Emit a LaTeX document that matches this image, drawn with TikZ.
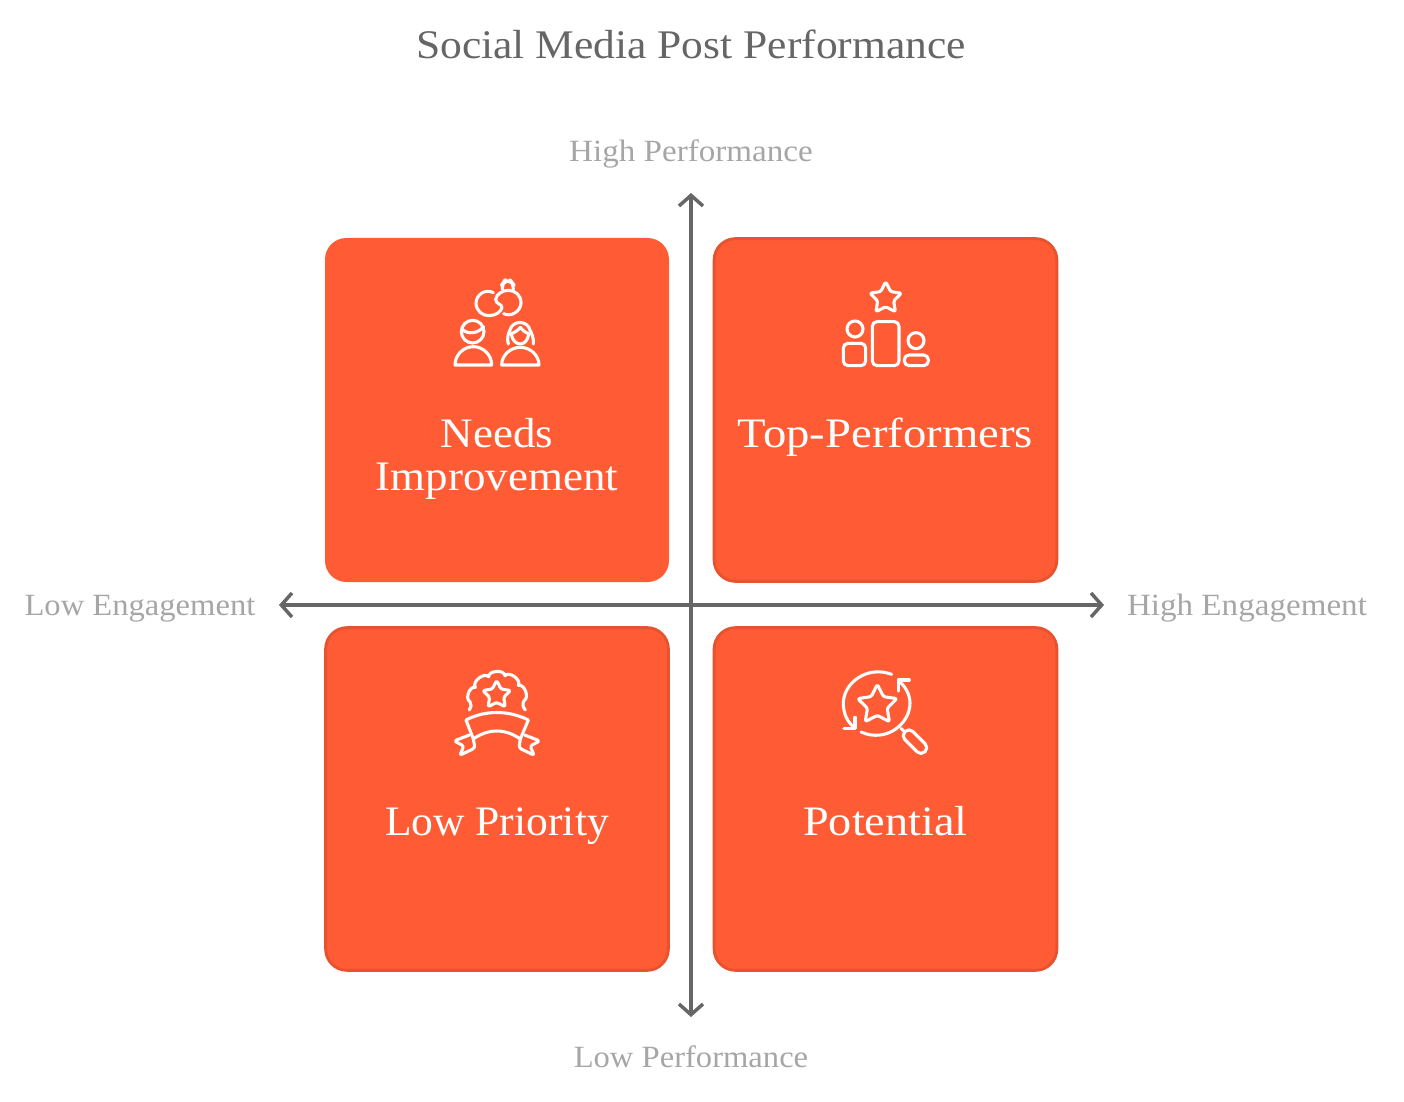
\documentclass[tikz,border=0pt]{standalone}
\usepackage{fontspec}
\setmainfont{Liberation Serif}[FakeStretch=1.07]
\usetikzlibrary{arrows.meta,calc}
\definecolor{boxfill}{HTML}{FF5C35}
\definecolor{boxedge}{HTML}{E8532F}
\definecolor{axisgrey}{HTML}{666666}
\definecolor{labelgrey}{HTML}{A6A6A6}
\newcommand{\iconstar}[3]{%
  \draw[iconline,rounded corners=1.6pt]
  ([shift={(#1,#2)}]-90:#3) -- ([shift={(#1,#2)}]-54:#3*0.5) --
  ([shift={(#1,#2)}]-18:#3) -- ([shift={(#1,#2)}]18:#3*0.5) --
  ([shift={(#1,#2)}]54:#3) -- ([shift={(#1,#2)}]90:#3*0.5) --
  ([shift={(#1,#2)}]126:#3) -- ([shift={(#1,#2)}]162:#3*0.5) --
  ([shift={(#1,#2)}]198:#3) -- ([shift={(#1,#2)}]234:#3*0.5) -- cycle;}
\tikzset{
  px/.style={x=0.75pt,y=-0.75pt},
  zoomed/.style={x=0.25pt,y=-0.25pt},
  box/.style={draw=boxedge,line width=2.2pt,fill=boxfill,rounded corners=16pt,minimum width=257pt,minimum height=257pt,inner sep=0pt},
  boxplain/.style={box,draw=none,minimum width=258pt,minimum height=258pt},
  boxtext/.style={text=white,font=\fontsize{31.5}{33}\selectfont,align=center,inner sep=0pt,anchor=base},
  axislabel/.style={text=labelgrey,font=\fontsize{23.2}{26}\selectfont,inner sep=0pt,anchor=base},
  titletext/.style={text=axisgrey,font=\fontsize{30.5}{32}\selectfont,inner sep=0pt,anchor=base},
  axisline/.style={draw=axisgrey,line width=2.6pt,{Straight Barb[length=8pt,width=18pt,line width=2.6pt]}-{Straight Barb[length=8pt,width=18pt,line width=2.6pt]}},
  iconline/.style={draw=white,line width=2.3pt,line cap=round,line join=round}
}
\begin{document}
\begin{tikzpicture}[px]
\useasboundingbox (0,0) rectangle (1404,1102);
\node[titletext] (title) at (691,58.5) {Social Media Post Performance};
\node[boxplain] (tl) at (497,410) {};
\node[box] (tr) at (885.5,410) {};
\node[box] (bl) at (497,799) {};
\node[box] (br) at (885.5,799) {};
\coordinate (vtop) at (691,193);
\coordinate (vbot) at (691,1017);
\coordinate (hleft) at (279,605);
\coordinate (hright) at (1104,605);
\draw[axisline] (vbot) -- (vtop);
\draw[axisline] (hleft) -- (hright);
\node[axislabel] (hp) at (691,161.5) {High Performance};
\node[axislabel] (lp) at (691,1067.5) {\scalebox{0.985}[1]{Low Performance}};
\node[axislabel] (le) at (140,615) {\scalebox{0.985}[1]{Low Engagement}};
\node[axislabel] (he) at (1247,615) {High Engagement};
\node[boxtext] (t1a) at (497,447) {Needs};
\node[boxtext] (t1b) at (497,490) {Improvement};
\node[boxtext] (t2) at (885.5,447) {\scalebox{1.04}[1]{Top-Performers}};
\node[boxtext] (t3) at (497,835) {\scalebox{0.97}[1]{Low Priority}};
\node[boxtext] (t4) at (885.5,835) {\scalebox{1.03}[1]{Potential}};
% icon: rings and people
\begin{scope}[shift={(440,270)},zoomed]
\draw[iconline] (160,68) .. controls (135,55) and (108,75) .. (108,100) .. controls (108,122) and (128,138) .. (148,137) .. controls (168,136) and (182,126) .. (186,113);
\draw[iconline] (186,113) .. controls (186,100) and (167,104) .. (167,88) .. controls (169,72) and (188,61) .. (205,61) .. controls (226,61) and (243,76) .. (243,98) .. controls (243,125) and (212,142) .. (191,131);
\draw[iconline,rounded corners=4pt] (187,58) -- (187,42) -- (193,33) -- (213,33) -- (220,42) -- (220,58);
\draw[iconline] (98,185) circle[radius=34];
\draw[iconline] (66,178) .. controls (85,195) and (115,190) .. (131,170);
\draw[iconline] (45,285) .. controls (45,255) and (70,230) .. (100,230) .. controls (130,230) and (155,255) .. (155,285) -- cycle;
\draw[iconline] (205,222) .. controls (200,205) and (205,190) .. (210,180) .. controls (218,150) and (262,150) .. (270,180) .. controls (275,190) and (282,205) .. (280,222);
\draw[iconline] (214,190) .. controls (222,190) and (235,180) .. (241,172) .. controls (247,180) and (258,190) .. (266,190);
\draw[iconline] (214,192) .. controls (216,212) and (230,222) .. (241,222) .. controls (252,222) and (264,212) .. (266,192);
\draw[iconline] (185,285) .. controls (185,255) and (212,232) .. (241,232) .. controls (270,232) and (297,255) .. (297,285) -- cycle;
\end{scope}
% icon: podium
\begin{scope}[shift={(830,270)},zoomed]
\iconstar{167}{85}{50}
\draw[iconline,rounded corners=3.5pt] (127,155) rectangle (207,287);
\draw[iconline] (75,177) circle[radius=24];
\draw[iconline,rounded corners=3.5pt] (40,220) rectangle (107,287);
\draw[iconline] (258,212) circle[radius=24];
\draw[iconline,rounded corners=3.5pt] (223,255) rectangle (295,287);
\end{scope}
% icon: rosette
\begin{scope}[shift={(440,660)},zoomed]
\iconstar{170}{105}{44}
\draw[iconline] (88,150) to[bend right=35] (90,125) to[bend left=85] (106,82) to[bend left=85] (146,50) to[bend left=85] (195,47) to[bend left=85] (235,76) to[bend left=85] (252,122) to[bend right=35] (256,150);
\draw[iconline] (78,180) .. controls (135,150) and (205,150) .. (265,180) -- (241,237) .. controls (195,205) and (145,205) .. (100,237) -- cycle;
\draw[iconline,rounded corners=2pt] (88,225) -- (42,243) -- (72,258) -- (59,286) -- (105,264) -- (100,237);
\draw[iconline,rounded corners=2pt] (254,225) -- (300,243) -- (270,258) -- (283,286) -- (237,264) -- (241,237);
\end{scope}
% icon: magnifier
\begin{scope}[shift={(830,660)},zoomed]
\iconstar{142}{135}{62}
\draw[iconline] (185,43) .. controls (110,15) and (40,70) .. (40,130) .. controls (40,160) and (52,185) .. (70,200);
\draw[iconline] (93,216) .. controls (170,250) and (240,190) .. (240,130) .. controls (240,105) and (228,82) .. (210,66);
\draw[iconline] (238,60) -- (205,60) -- (205,93);
\draw[iconline] (42,205) -- (75,205) -- (75,172);
\draw[iconline] (213,205) -- (224,216);
\draw[iconline,rounded corners=4pt] (237,203) -- (213,227) -- (273,287) -- (297,263) -- cycle;
\end{scope}
\end{tikzpicture}
\end{document}
